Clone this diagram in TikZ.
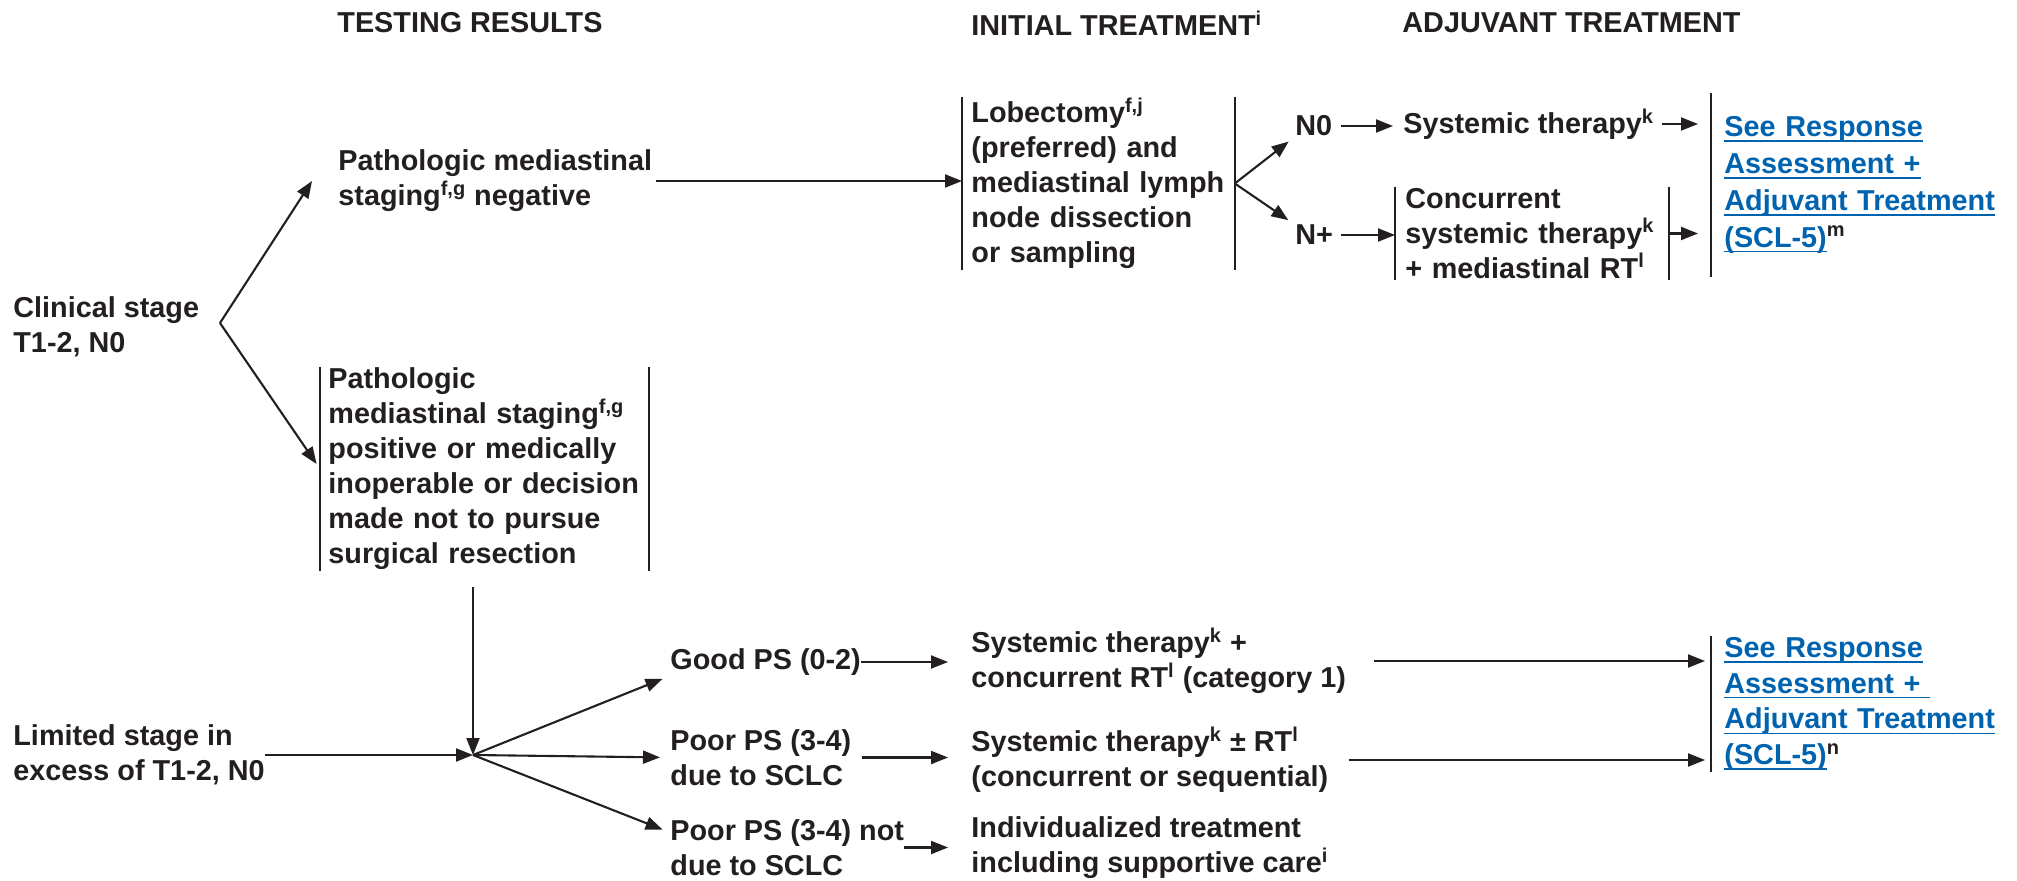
\documentclass[tikz,border=0pt]{standalone}
\usepackage{fontspec}
\setmainfont{Liberation Sans}
\usetikzlibrary{arrows.meta,calc}
\definecolor{ink}{HTML}{231F20}
\definecolor{linkblue}{RGB}{0,99,175}
\newsavebox{\lnkbox}
\newcommand{\lnk}[1]{\textcolor{linkblue}{\sbox{\lnkbox}{#1}\rlap{\rule[-2.6pt]{\wd\lnkbox}{0.8pt}}\usebox{\lnkbox}}}
\begin{document}
\begin{tikzpicture}[x=0.5pt,y=-0.5pt,
  every node/.style={font=\fontsize{14.4}{17.5}\selectfont\bfseries, text=ink},
  txt/.style={inner sep=0pt, anchor=west, align=left},
  barline/.style={draw=ink, line width=0.8pt},
  box/.style={anchor=west, align=left, inner ysep=0pt, inner xsep=#1},
  bothbars/.style={append after command={(\tikzlastnode.north west) edge[barline] (\tikzlastnode.south west) (\tikzlastnode.north east) edge[barline] (\tikzlastnode.south east)}},
  leftbar/.style={append after command={(\tikzlastnode.north west) edge[barline] (\tikzlastnode.south west)}},
  arr/.style={draw=ink, line width=1.05pt, -{Triangle[length=8.5pt,width=6.5pt]}},
]
\useasboundingbox (0,0) rectangle (2017,881);
% headers
\node[txt] (h1) at (337,23) {TESTING RESULTS};
\node[txt] (h2) at (971,23) {INITIAL TREATMENT\textsuperscript{i}};
\node[txt] (h3) at (1402,23) {ADJUVANT TREATMENT};

% upper part
\node[txt] (clin) at (13,327) {Clinical stage\\T1-2, N0};
\coordinate (apexA) at (220,323);
\node[txt] (pneg) at (338,181) {Pathologic mediastinal\\staging\textsuperscript{f,g} negative};
\node[box=4pt, text width=156pt, minimum height=102pt, bothbars] (pos) at (320,469)
  {Pathologic\\mediastinal staging\textsuperscript{f,g}\\positive or medically\\inoperable or decision\\made not to pursue\\surgical resection};
\node[box=4.5pt, text width=127pt, minimum height=86.5pt, bothbars] (lob) at (962,183.5)
  {Lobectomy\textsuperscript{f,j}\\(preferred) and\\mediastinal lymph\\node dissection\\or sampling};
\node[txt] (n0) at (1295,126) {N0};
\node[txt] (np) at (1295,235) {N+};
\node[txt] (sys1) at (1403,124) {Systemic therapy\textsuperscript{k}};
\node[box=5pt, text width=126.5pt, minimum height=46.5pt, bothbars] (conc) at (1395,233.5)
  {Concurrent\\systemic therapy\textsuperscript{k}\\+ mediastinal RT\textsuperscript{l}};
\node[box=6.5pt, text width=145pt, minimum height=92pt, leftbar, font=\fontsize{14.4}{18.4}\selectfont\bfseries] (scla) at (1711,185)
  {\lnk{See Response}\\\lnk{Assessment +}\\\lnk{Adjuvant Treatment}\\\lnk{(SCL-5)}\textsuperscript{m}};

% lower part
\node[txt] (lim) at (13,755) {Limited stage in\\excess of T1-2, N0};
\coordinate (hub) at (473,755);
\node[txt] (good) at (670,662) {Good PS (0-2)};
\node[txt] (poor) at (670,757.5) {Poor PS (3-4)\\due to SCLC};
\node[txt] (poornot) at (670,847.5) {Poor PS (3-4) not\\due to SCLC};
\node[txt] (treat1) at (971,661) {Systemic therapy\textsuperscript{k} +\\concurrent RT\textsuperscript{l} (category 1)};
\node[txt] (treat2) at (971,760) {Systemic therapy\textsuperscript{k} ± RT\textsuperscript{l}\\(concurrent or sequential)};
\node[txt] (treat3) at (971,848) {Individualized treatment\\including supportive care\textsuperscript{i}};
\node[box=6.5pt, text width=145pt, minimum height=68pt, leftbar, font=\fontsize{14.4}{17.9}\selectfont\bfseries] (sclb) at (1711,704)
  {\lnk{See Response}\\\lnk{Assessment +\ }\\\lnk{Adjuvant Treatment}\\\lnk{(SCL-5)}\textsuperscript{n}};

% connectors, upper
\draw[arr] (apexA) -- ($(pneg.west)+(-26,0)$);
\draw[arr, shorten >=3pt] (apexA) -- (pos.west);
\draw[arr, shorten <=2pt] (pneg.east) -- (pneg.east -| lob.west);
\draw[arr, shorten >=4pt] (lob.east) -- (n0.south west);
\draw[arr, shorten >=4pt] (lob.east) -- (np.north west);
\draw[arr, shorten <=4pt, shorten >=5pt] (n0.east) -- (n0.east -| sys1.west);
\draw[arr, shorten <=4pt, shorten >=6.5pt] (sys1.east) -- (sys1.east -| scla.west);
\draw[arr, shorten <=4pt] (np.east) -- (np.east -| conc.west);
\draw[arr, shorten >=6.5pt] (conc.east) -- (conc.east -| scla.west);

% connectors, lower
\draw[arr] ($(hub |- pos.south)+(0,16)$) -- (hub);
\draw[arr] (lim.east) -- (hub);
\draw[arr, shorten >=4pt] (hub) -- (good.south west);
\draw[arr, shorten >=5pt] (hub) -- (poor.west);
\draw[arr, shorten >=4pt] (hub) -- ($(poornot.west)+(0,-15)$);
\draw[arr, shorten >=11.5pt] (good.east) -- (good.east -| treat1.west);
\draw[arr, shorten <=5pt, shorten >=11.5pt] (poor.east) -- (poor.east -| treat2.west);
\draw[arr, shorten >=11.5pt] (poornot.east) -- (poornot.east -| treat3.west);
\draw[arr, shorten <=14pt, shorten >=3pt] (treat1.east) -- (treat1.east -| sclb.west);
\draw[arr, shorten <=10pt, shorten >=3pt] (treat2.east) -- (treat2.east -| sclb.west);
\end{tikzpicture}
\end{document}
